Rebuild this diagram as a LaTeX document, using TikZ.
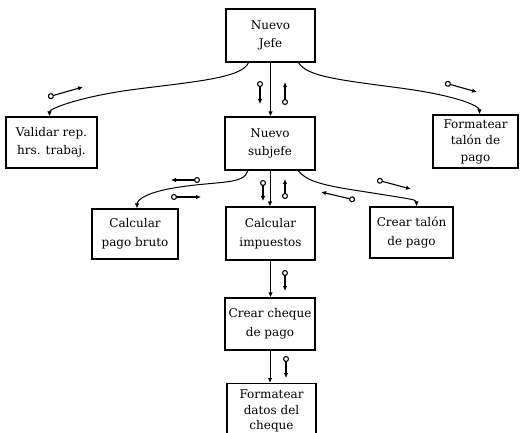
\documentclass[tikz,border=0pt]{standalone}
\usepackage{fontspec}
\setmainfont{DejaVu Serif}
\usetikzlibrary{arrows.meta}
\begin{document}
\begin{tikzpicture}[x=1pt,y=-1pt,
  module/.style={draw,line width=1.1pt,rectangle,align=center,inner sep=0pt,
    font=\fontsize{12}{18.5}\selectfont},
  flow/.style={line width=1pt,-{Latex[length=5pt,width=4.5pt]}},
  couple/.style={line width=1.1pt,{Circle[open,length=6pt,width=6pt]}-{Latex[length=5pt,width=4.5pt]}}]
\useasboundingbox (0,0) rectangle (520,433);
\clip (0,0) rectangle (520,433);
% modules
\node[module,minimum width=89pt,minimum height=53pt] (jefe) at (270.5,35.5) {Nuevo\\Jefe};
\node[module,minimum width=90pt,minimum height=53pt] (sub) at (270,143.5) {Nuevo\\subjefe};
\node[module,minimum width=91pt,minimum height=51pt] (val) at (51.5,142.5) {Validar rep.\\hrs. trabaj.};
\node[module,minimum width=85pt,minimum height=53pt,font=\fontsize{12}{16.5}\selectfont] (ftal) at (475.5,141.5) {Formatear\\talón de\\pago};
\node[module,minimum width=86pt,minimum height=50pt] (bruto) at (135,234) {Calcular\\pago bruto};
\node[module,minimum width=89pt,minimum height=53pt] (imp) at (270.5,233.5) {Calcular\\impuestos};
\node[module,minimum width=83pt,minimum height=51pt] (ctal) at (411.5,232.5) {Crear talón\\de pago};
\node[module,minimum width=90pt,minimum height=52pt] (cheq) at (270,324) {Crear cheque\\de pago};
\node[module,minimum width=89pt,minimum height=55pt,anchor=north,font=\fontsize{12}{15.5}\selectfont] (fdat) at (271.5,383) {Formatear\\datos del\\cheque};
% calls
\draw[flow] (jefe.south) -- (jefe.south |- sub.north);
\draw[flow] ([xshift=-22pt]jefe.south) .. controls +(-6,16) and +(60,-8) .. (130,90)
  .. controls +(-50,7) and +(0,-8) .. ([xshift=-2pt]val.north);
\draw[flow] ([xshift=28pt]jefe.south) .. controls +(8,14) and +(-60,-8) .. (400,88)
  .. controls +(60,8) and +(0,-8) .. ([xshift=4pt]ftal.north);
\draw[flow] (sub.south) -- (sub.south |- imp.north);
\draw[flow] ([xshift=-22pt]sub.south) .. controls +(-4,14) and +(40,-6) .. (180,187)
  .. controls +(-35,5) and +(0,-8) .. ([xshift=2pt]bruto.north);
\draw[flow] ([xshift=28pt]sub.south) .. controls +(8,10) and +(-40,-6) .. (360,191)
  .. controls +(50,8) and +(0,-7) .. ([xshift=5pt]ctal.north);
\draw[flow] (imp.south) -- (imp.south |- cheq.north);
\draw[flow] (cheq.south) -- (cheq.south |- fdat.north);
% data couples
\draw[couple] (48,97) -- (83,87);
\draw[couple] (445,83) -- (477,92);
\draw[couple] (260,81) -- (260,104);
\draw[couple] (285,105) -- (285,82);
\draw[couple] (200,180) -- (171,180);
\draw[couple] (171,197) -- (201,197);
\draw[couple] (263,180) -- (263,201);
\draw[couple] (285,199) -- (285,179);
\draw[couple] (377,180) -- (411,189);
\draw[couple] (355,200) -- (321,192);
\draw[couple] (285,270) -- (285,291);
\draw[couple] (286,356) -- (286,378);
\end{tikzpicture}
\end{document}
